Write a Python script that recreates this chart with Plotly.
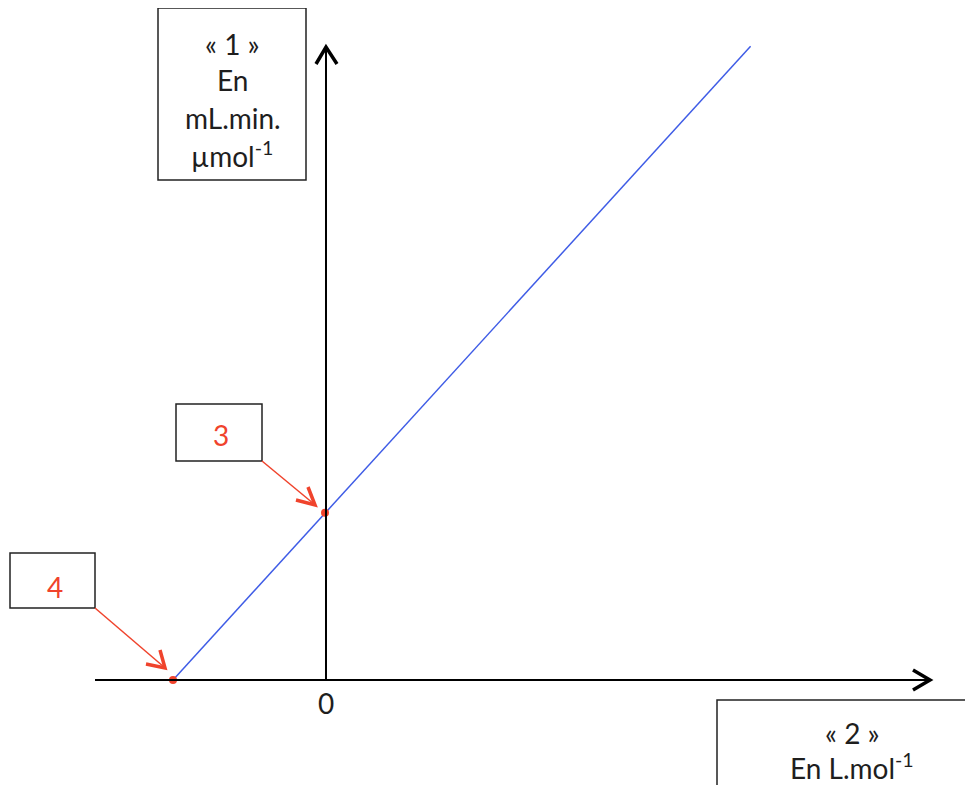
import plotly.graph_objects as go

# Lineweaver-Burk style sketch: 1/v versus 1/[S]
line_x = [-1.0, 2.8]
line_y = [0.0, 3.75]
point_x = [-1.0, 0.0]   # -1/Km (4) and 1/Vmax (3)
point_y = [0.0, 0.99]
point_labels = ['4', '3']

# page body has an 8px margin, so the figure starts at (8, 8) in the window
PAD = 8
W, H = 965, 777
# data unit -> pixels, origin at window (325, 680)
X_UNIT, Y_UNIT = 152.0, 169.0
OX, OY = 325.0 - PAD, 680.0 - PAD

RED = '#f0432c'
BLUE = '#3f5ce6'
INK = '#1e1e1e'
FONT = 'Lato, "Open Sans", sans-serif'


def px(x):
    return (x - PAD) / W


def py(y):
    return 1 - (y - PAD) / H


def path(points):
    return 'M' + ' L'.join(f'{px(a):.5f},{py(b):.5f}' for a, b in points)


fig = go.Figure()

fig.add_trace(go.Scatter(
    x=line_x, y=line_y, mode='lines',
    line=dict(color=BLUE, width=1.5),
    hoverinfo='skip', showlegend=False
))
fig.add_trace(go.Scatter(
    x=point_x, y=point_y, mode='markers',
    marker=dict(color=RED, size=8),
    text=point_labels, hoverinfo='text', showlegend=False
))

shapes = []

# axes with open arrow heads
axis_style = dict(type='path', xref='paper', yref='paper', line=dict(color='black', width=2))
shapes.append(dict(axis_style, path=path([(95, 680), (929, 680)])))
shapes.append(dict(axis_style, path=path([(913, 670), (930, 680), (913, 690)]), line=dict(color='black', width=3.5)))
shapes.append(dict(axis_style, path=path([(326, 680), (326, 48)])))
shapes.append(dict(axis_style, path=path([(316, 64), (326, 47), (337, 64)]), line=dict(color='black', width=3.5)))

# red pointer arrows
red_style = dict(type='path', xref='paper', yref='paper', line=dict(color=RED, width=1.5))
shapes.append(dict(red_style, path=path([(262, 461), (314, 504)])))
shapes.append(dict(red_style, path=path([(296, 500), (315, 505), (308, 487)]), line=dict(color=RED, width=3.5)))
shapes.append(dict(red_style, path=path([(95, 608), (164, 667)])))
shapes.append(dict(red_style, path=path([(146, 664), (165, 668), (160, 650)]), line=dict(color=RED, width=3.5)))

# label boxes
boxes = [(158, 8, 306, 180), (176, 404, 262, 461), (10, 553, 95, 608), (717, 700, 1000, 820)]
for x0, y0, x1, y1 in boxes:
    shapes.append(dict(type='rect', xref='paper', yref='paper',
                       x0=px(x0), x1=px(x1), y0=py(y0), y1=py(y1),
                       line=dict(color='#222222', width=1.5), fillcolor='white', layer='below'))

texts = [
    (232, 44, '« 1 »', INK),
    (232, 80, 'En', INK),
    (233, 118, 'mL.min.', INK),
    (232, 154, 'µmol<sup>-1</sup>', INK),
    (221, 435, '3', RED),
    (55, 587, '4', RED),
    (852, 733, '« 2 »', INK),
    (852, 766, 'En L.mol<sup>-1</sup>', INK),
    (326, 703, '0', INK),
]
annotations = [
    dict(x=px(a), y=py(b), xref='paper', yref='paper', text=t, showarrow=False,
         font=dict(family=FONT, size=28, color=c), xanchor='center', yanchor='middle',
         borderpad=0)
    for a, b, t, c in texts
]

fig.update_layout(
    width=W, height=H,
    margin=dict(l=0, r=0, t=0, b=0),
    paper_bgcolor='white', plot_bgcolor='white',
    xaxis=dict(range=[-OX / X_UNIT, (W - OX) / X_UNIT], visible=False, fixedrange=True),
    yaxis=dict(range=[-(H - OY) / Y_UNIT, OY / Y_UNIT], visible=False, fixedrange=True),
    shapes=shapes,
    annotations=annotations,
    showlegend=False
)

fig.write_html('out.html')
